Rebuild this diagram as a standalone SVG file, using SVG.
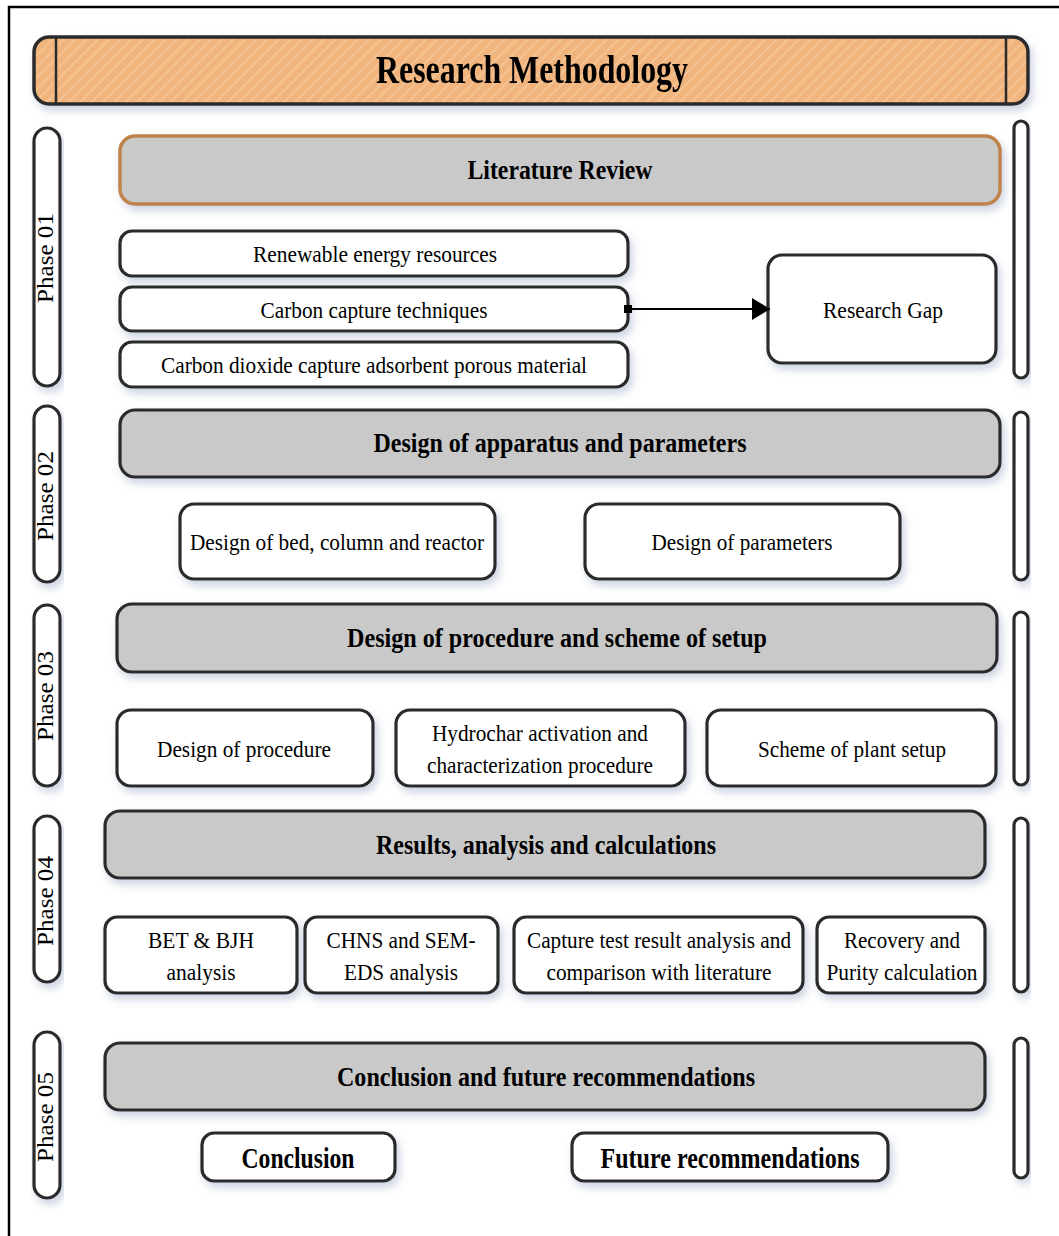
<svg xmlns="http://www.w3.org/2000/svg" width="1059" height="1236" viewBox="0 0 1059 1236">
<defs>
<style>
.t{font-family:"Liberation Serif","Times New Roman",serif;fill:#000;text-anchor:middle}
.n{font-size:24px}
.b{font-size:27px;font-weight:bold}
.ph{font-size:23px}
.box{fill:#fff;stroke:#2a2a2a;stroke-width:3.2}
.hdr{fill:#c9c9c9;stroke:#2a2a2a;stroke-width:3.2}
.pill{fill:#fff;stroke:#2a2a2a;stroke-width:3.2}
.con{stroke:#000;stroke-width:2;fill:none}
</style>
<filter id="sh" x="-10%" y="-30%" width="125%" height="170%">
<feDropShadow dx="3" dy="5" stdDeviation="4" flood-color="#7d8fb3" flood-opacity="0.4"/>
</filter>
<pattern id="hatch" width="8" height="8" patternUnits="userSpaceOnUse" patternTransform="rotate(45)">
<rect width="8" height="8" fill="#f0b47c"/>
<rect width="2" height="8" fill="#f4c393"/>
</pattern>
<marker id="arr" viewBox="0 0 18 22" refX="18" refY="11" markerWidth="18" markerHeight="22" markerUnits="userSpaceOnUse" orient="auto">
<path d="M0,0 L18,11 L0,22 z" fill="#000"/>
</marker>
</defs>
<rect width="1059" height="1236" fill="#fff"/>
<path d="M9,1236 V7 H1059" fill="none" stroke="#000" stroke-width="2.5"/>

<g id="title" filter="url(#sh)">
<rect x="34" y="37" width="994" height="67" rx="15" fill="url(#hatch)" stroke="#2a2a2a" stroke-width="3.5"/>
<line x1="56" y1="37" x2="56" y2="104" stroke="#2a2a2a" stroke-width="2.5"/>
<line x1="1006" y1="37" x2="1006" y2="104" stroke="#2a2a2a" stroke-width="2.5"/>
<text class="t" x="532" y="83" font-size="40" font-weight="bold" textLength="312" lengthAdjust="spacingAndGlyphs">Research Methodology</text>
</g>

<!-- left phase pills -->
<g id="phase01"><rect class="pill" x="34" y="128" width="26" height="258" rx="13" filter="url(#sh)"/><text class="t ph" transform="translate(53,258) rotate(-90)" textLength="90" lengthAdjust="spacingAndGlyphs">Phase 01</text></g>
<g id="phase02"><rect class="pill" x="34" y="406" width="26" height="176" rx="13" filter="url(#sh)"/><text class="t ph" transform="translate(53,496) rotate(-90)" textLength="90" lengthAdjust="spacingAndGlyphs">Phase 02</text></g>
<g id="phase03"><rect class="pill" x="34" y="605" width="26" height="181" rx="13" filter="url(#sh)"/><text class="t ph" transform="translate(53,696) rotate(-90)" textLength="90" lengthAdjust="spacingAndGlyphs">Phase 03</text></g>
<g id="phase04"><rect class="pill" x="34" y="816" width="26" height="166" rx="13" filter="url(#sh)"/><text class="t ph" transform="translate(53,901) rotate(-90)" textLength="90" lengthAdjust="spacingAndGlyphs">Phase 04</text></g>
<g id="phase05"><rect class="pill" x="34" y="1032" width="26" height="166" rx="13" filter="url(#sh)"/><text class="t ph" transform="translate(53,1117) rotate(-90)" textLength="90" lengthAdjust="spacingAndGlyphs">Phase 05</text></g>

<!-- right pills -->
<g id="rbar1"><rect class="pill" x="1014" y="121" width="14" height="257" rx="7" filter="url(#sh)"/></g>
<g id="rbar2"><rect class="pill" x="1014" y="412" width="14" height="168" rx="7" filter="url(#sh)"/></g>
<g id="rbar3"><rect class="pill" x="1014" y="612" width="14" height="173" rx="7" filter="url(#sh)"/></g>
<g id="rbar4"><rect class="pill" x="1014" y="818" width="14" height="174" rx="7" filter="url(#sh)"/></g>
<g id="rbar5"><rect class="pill" x="1014" y="1038" width="14" height="140" rx="7" filter="url(#sh)"/></g>

<!-- Phase 1 -->
<g id="litreview"><rect x="120" y="136" width="880" height="68" rx="15" fill="#c9c9c9" stroke="#c0824a" stroke-width="3.5" filter="url(#sh)"/><text class="t b" x="560" y="179" textLength="185" lengthAdjust="spacingAndGlyphs">Literature Review</text></g>
<g id="renew"><rect class="box" x="120" y="231" width="508" height="45" rx="12" filter="url(#sh)"/><text class="t n" x="375" y="262" textLength="244" lengthAdjust="spacingAndGlyphs">Renewable energy resources</text></g>
<g id="cct"><rect class="box" x="120" y="287" width="508" height="44" rx="12" filter="url(#sh)"/><text class="t n" x="374" y="318" textLength="227" lengthAdjust="spacingAndGlyphs">Carbon capture techniques</text></g>
<g id="co2"><rect class="box" x="120" y="342" width="508" height="45" rx="12" filter="url(#sh)"/><text class="t n" x="374" y="373" textLength="426" lengthAdjust="spacingAndGlyphs">Carbon dioxide capture adsorbent porous material</text></g>
<g id="gap"><rect class="box" x="768" y="255" width="228" height="108" rx="14" filter="url(#sh)"/><text class="t n" x="883" y="318" textLength="120" lengthAdjust="spacingAndGlyphs">Research Gap</text></g>

<!-- Phase 2 -->
<g id="apparatus"><rect class="hdr" x="120" y="410" width="880" height="67" rx="15" filter="url(#sh)"/><text class="t b" x="560" y="452" textLength="373" lengthAdjust="spacingAndGlyphs">Design of apparatus and parameters</text></g>
<g id="bed"><rect class="box" x="180" y="504" width="315" height="75" rx="14" filter="url(#sh)"/><text class="t n" x="337" y="550" textLength="294" lengthAdjust="spacingAndGlyphs">Design of bed, column and reactor</text></g>
<g id="params"><rect class="box" x="585" y="504" width="315" height="75" rx="14" filter="url(#sh)"/><text class="t n" x="742" y="550" textLength="181" lengthAdjust="spacingAndGlyphs">Design of parameters</text></g>

<!-- Phase 3 -->
<g id="procscheme"><rect class="hdr" x="117" y="604" width="880" height="68" rx="15" filter="url(#sh)"/><text class="t b" x="557" y="647" textLength="420" lengthAdjust="spacingAndGlyphs">Design of procedure and scheme of setup</text></g>
<g id="proc"><rect class="box" x="117" y="710" width="256" height="76" rx="14" filter="url(#sh)"/><text class="t n" x="244" y="757" textLength="174" lengthAdjust="spacingAndGlyphs">Design of procedure</text></g>
<g id="hydro"><rect class="box" x="396" y="710" width="289" height="76" rx="14" filter="url(#sh)"/><text class="t n" x="540" y="741" textLength="216" lengthAdjust="spacingAndGlyphs">Hydrochar activation and</text><text class="t n" x="540" y="773" textLength="226" lengthAdjust="spacingAndGlyphs">characterization procedure</text></g>
<g id="scheme"><rect class="box" x="707" y="710" width="289" height="76" rx="14" filter="url(#sh)"/><text class="t n" x="852" y="757" textLength="188" lengthAdjust="spacingAndGlyphs">Scheme of plant setup</text></g>

<!-- Phase 4 -->
<g id="results"><rect class="hdr" x="105" y="811" width="880" height="67" rx="15" filter="url(#sh)"/><text class="t b" x="546" y="854" textLength="340" lengthAdjust="spacingAndGlyphs">Results, analysis and calculations</text></g>
<g id="bet"><rect class="box" x="105" y="917" width="192" height="76" rx="12" filter="url(#sh)"/><text class="t n" x="201" y="948" textLength="106" lengthAdjust="spacingAndGlyphs">BET &amp; BJH</text><text class="t n" x="201" y="980" textLength="69" lengthAdjust="spacingAndGlyphs">analysis</text></g>
<g id="chns"><rect class="box" x="305" y="917" width="193" height="76" rx="12" filter="url(#sh)"/><text class="t n" x="401" y="948" textLength="149" lengthAdjust="spacingAndGlyphs">CHNS and SEM-</text><text class="t n" x="401" y="980" textLength="114" lengthAdjust="spacingAndGlyphs">EDS analysis</text></g>
<g id="capture"><rect class="box" x="514" y="917" width="289" height="76" rx="12" filter="url(#sh)"/><text class="t n" x="659" y="948" textLength="264" lengthAdjust="spacingAndGlyphs">Capture test result analysis and</text><text class="t n" x="659" y="980" textLength="225" lengthAdjust="spacingAndGlyphs">comparison with literature</text></g>
<g id="recovery"><rect class="box" x="817" y="917" width="168" height="76" rx="12" filter="url(#sh)"/><text class="t n" x="902" y="948" textLength="116" lengthAdjust="spacingAndGlyphs">Recovery and</text><text class="t n" x="902" y="980" textLength="151" lengthAdjust="spacingAndGlyphs">Purity calculation</text></g>

<!-- Phase 5 -->
<g id="conclfuture"><rect class="hdr" x="105" y="1043" width="880" height="67" rx="15" filter="url(#sh)"/><text class="t b" x="546" y="1086" textLength="418" lengthAdjust="spacingAndGlyphs">Conclusion and future recommendations</text></g>
<g id="concl"><rect class="box" x="202" y="1133" width="193" height="48" rx="12" filter="url(#sh)"/><text class="t" x="298" y="1168" font-size="30" font-weight="bold" textLength="113" lengthAdjust="spacingAndGlyphs">Conclusion</text></g>
<g id="future"><rect class="box" x="572" y="1133" width="316" height="48" rx="12" filter="url(#sh)"/><text class="t" x="730" y="1168" font-size="30" font-weight="bold" textLength="259" lengthAdjust="spacingAndGlyphs">Future recommendations</text></g>

<g id="connectors">
<rect x="624" y="305" width="8" height="8" fill="#000"/>
<line class="con" x1="628" y1="309" x2="770" y2="309" marker-end="url(#arr)"/>
</g>
</svg>
